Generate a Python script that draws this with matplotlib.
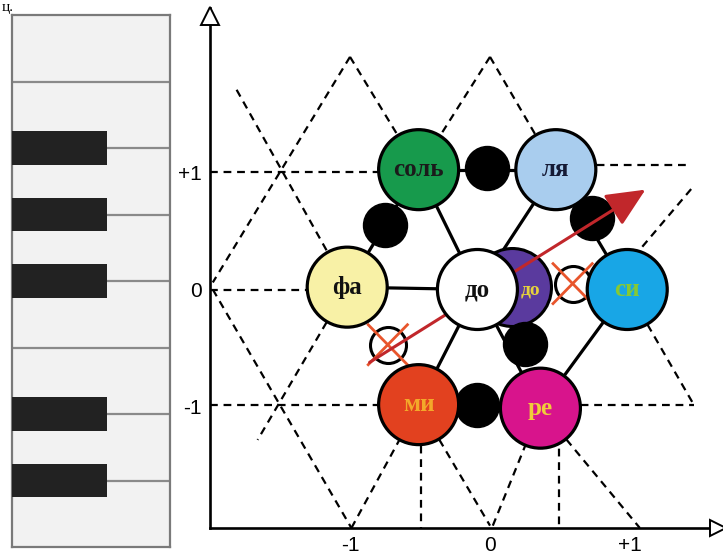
import matplotlib
matplotlib.use("Agg")
import matplotlib.pyplot as plt

# ---- data -----------------------------------------------------------------
# notes: name, x, y, face colour, text colour
note_names = ["соль", "ля", "фа", "до", "си", "ми", "ре"]
note_x = [-0.51, 0.47, -1.02, -0.09, 0.98, -0.51, 0.36]
note_y = [1.02, 1.02, 0.02, 0.0, 0.0, -0.98, -1.01]
note_faces = ["#179a4c", "#a9cdee", "#f8f1a6", "#ffffff", "#18a6e6", "#e2411f", "#d8148c"]
note_text = ["#1b1b1b", "#151a35", "#111111", "#111111", "#86c934", "#f3a82a", "#f0cd3a"]

# sharp "до" hidden behind до
sharp_name = "до"
sharp_x, sharp_y = 0.16, 0.02

# black passing tones
dot_x = [-0.02, -0.75, 0.73, 0.25, -0.09]
dot_y = [1.03, 0.55, 0.61, -0.46, -0.98]

# crossed-out empty tones
cross_x = [0.59, -0.73]
cross_y = [0.05, -0.47]

# solid links between notes (by name)
links = [("соль", "ля"), ("соль", "фа"), ("ля", "си"), ("ми", "ре"),
         ("фа", "до"), ("соль", "до"), ("ля", "до"), ("до", "ми"),
         ("си", "ре"), ("до", "ре")]

# dashed guide segments outside the note hexagon: x0, y0, x1, y1
guide_lines = [
    (-1.00, 1.98, -1.98, 0.06),
    (-1.00, 1.98, -0.51, 1.02),
    (0.36, -1.01, 1.07, -2.03),
    (0.00, 1.98, -0.51, 1.02),
    (-1.02, 0.02, -1.66, -1.28),
    (0.00, 1.98, 0.47, 1.02),
    (0.98, 0.00, 1.46, -0.99),
    (-1.81, 1.70, -1.02, 0.02),
    (-0.51, -0.98, 0.00, -2.01),
    (-1.98, 0.00, -0.99, -2.03),
    (-0.99, -2.03, -0.51, -0.98),
    (0.02, -2.01, 0.36, -1.01),
    (0.90, 0.10, 1.44, 0.86),
    (-2.00, 1.00, -0.51, 1.00),
    (0.47, 1.06, 1.41, 1.06),
    (-2.00, 0.00, -1.02, 0.00),
    (-2.00, -0.98, -0.51, -0.98),
    (0.36, -0.98, 1.46, -0.98),
    (-0.49, -0.98, -0.49, -2.03),
    (0.49, -1.01, 0.49, -2.03),
]

# red arrow
arrow_start = (-0.86, -0.62)
arrow_end = (1.11, 0.85)

ticks = [-1, 0, 1]
tick_labels = ["-1", "0", "+1"]

# piano: black keys sit on these white-key borders (counted from top)
black_keys = [2, 3, 4, 6, 7]
full_borders = [1, 5]
n_white = 8

# ---- figure ----------------------------------------------------------------
fig = plt.figure(figsize=(7.23, 5.6), dpi=100)
fig.patch.set_facecolor("white")

# piano keyboard
pax = fig.add_axes([12 / 723, 13 / 560, 158 / 723, 532 / 560])
pax.set_xlim(0, 1)
pax.set_ylim(n_white, 0)
pax.set_facecolor("#f2f2f2")
pax.barh(black_keys, 0.6, height=0.51, left=0, color="#222222", zorder=3)
pax.hlines(full_borders, 0, 1, color="#8a8a8a", lw=1.6, zorder=2)
pax.hlines(black_keys, 0.6, 1, color="#8a8a8a", lw=1.6, zorder=2)
for s in pax.spines.values():
    s.set_color("#7a7a7a")
    s.set_linewidth(1.6)
pax.set_xticks([])
pax.set_yticks([])

fig.text(2 / 723, 1 - 1 / 560, "ц.", fontsize=11, family="Liberation Serif",
         va="top", ha="left")

# main diagram
ax = fig.add_axes([210 / 723, 32 / 560, 513 / 723, 520 / 560])
ax.set_xlim(-2.0, 1.664)
ax.set_ylim(-2.03, 2.396)
ax.patch.set_alpha(0)
for side in ["top", "right"]:
    ax.spines[side].set_visible(False)
for side in ["left", "bottom"]:
    ax.spines[side].set_linewidth(1.9)
ax.set_xticks(ticks)
ax.set_xticklabels(tick_labels)
ax.set_yticks(ticks)
ax.set_yticklabels(tick_labels)
ax.tick_params(length=0, labelsize=15, pad=6)
for lab in ax.get_xticklabels() + ax.get_yticklabels():
    lab.set_family("Liberation Sans")

# axis arrowheads
ax.plot(0, 0.985, marker="^", ms=13, mfc="white", mec="black", mew=1.4,
        transform=ax.transAxes, clip_on=False, zorder=8)
ax.plot(0.99, 0, marker=">", ms=12, mfc="white", mec="black", mew=1.4,
        transform=ax.transAxes, clip_on=False, zorder=8)

for x0, y0, x1, y1 in guide_lines:
    ax.plot([x0, x1], [y0, y1], color="black", lw=1.6, ls=(0, (3.5, 2.6)), zorder=1)

pos = {n: (x, y) for n, x, y in zip(note_names, note_x, note_y)}
for a, b in links:
    ax.plot([pos[a][0], pos[b][0]], [pos[a][1], pos[b][1]], color="black",
            lw=2.3, solid_capstyle="butt", zorder=2)

big = (2 * 40 * 0.72) ** 2
small = (2 * 22 * 0.72) ** 2
tiny = (2 * 18 * 0.72) ** 2

ax.scatter([sharp_x], [sharp_y], s=big * 0.95, c="#5a3a9e", edgecolors="black",
           linewidths=2.2, zorder=3)
ax.scatter(dot_x, dot_y, s=small, c="black", zorder=3.5)
ax.scatter(cross_x, cross_y, s=tiny, c="white", edgecolors="black",
           linewidths=2.2, zorder=3.5)
dx, dy = 0.14, 0.17
for cx, cy in zip(cross_x, cross_y):
    ax.plot([cx - dx, cx + dx], [cy + dy, cy - dy], color="#e8552c", lw=2.0, zorder=3.6)
    ax.plot([cx - dx, cx + dx], [cy - dy, cy + dy], color="#e8552c", lw=2.0, zorder=3.6)

ax.annotate("", xy=arrow_end, xytext=arrow_start, zorder=4,
            arrowprops=dict(arrowstyle="-|>,head_length=1.2,head_width=0.55",
                            mutation_scale=20, lw=2.2, color="#c1272b",
                            shrinkA=0, shrinkB=0))

ax.scatter(note_x, note_y, s=big, c=note_faces, edgecolors="black",
           linewidths=2.3, zorder=5)
for n, x, y, tc in zip(note_names, note_x, note_y, note_text):
    ax.text(x, y, n, ha="center", va="center", color=tc, fontsize=18,
            family="Liberation Serif", weight="bold", zorder=6)
ax.text(sharp_x + 0.13, sharp_y - 0.02, sharp_name, ha="center", va="center",
        color="#e6d23c", fontsize=14, family="Liberation Serif", weight="bold", zorder=6)

fig.savefig("out.png", dpi=100)
